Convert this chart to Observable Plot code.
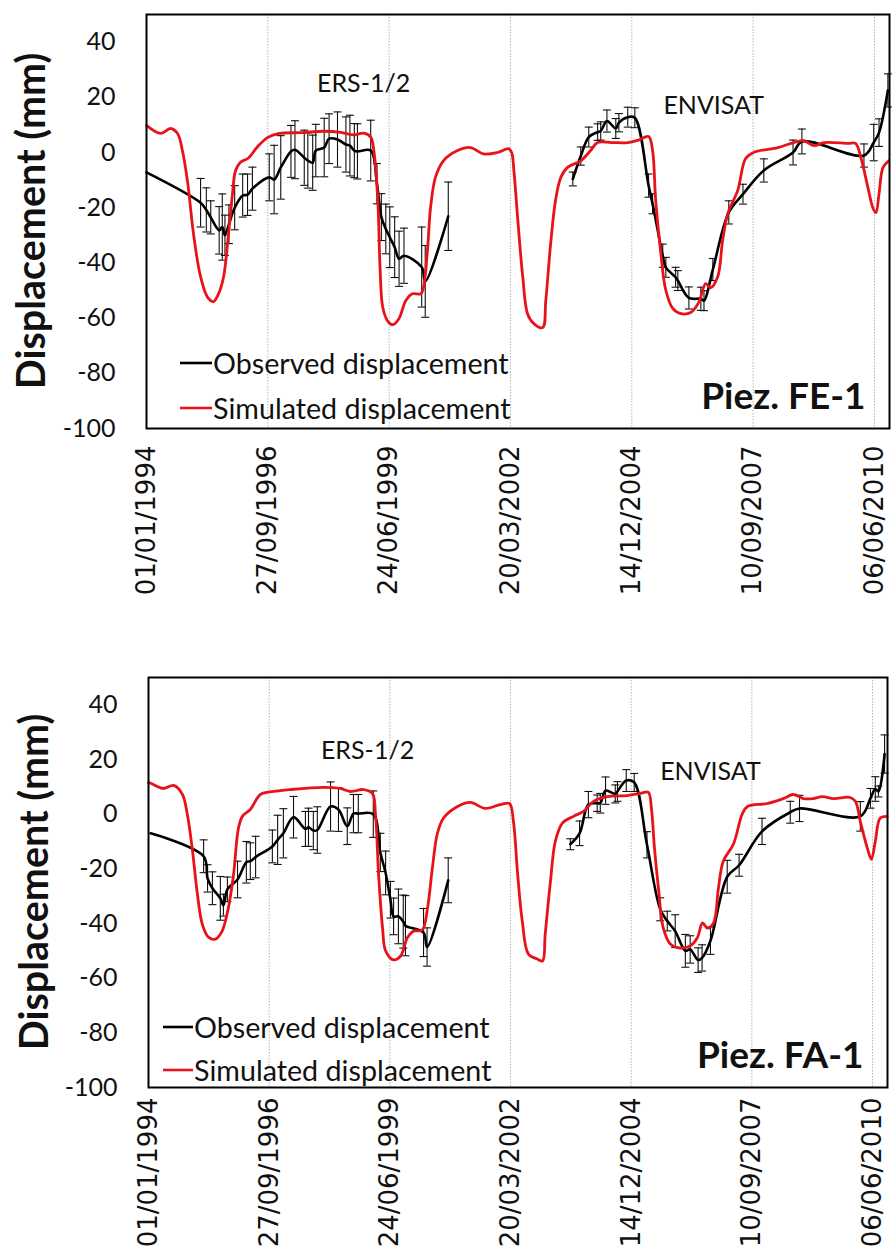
<!DOCTYPE html>
<html>
<head>
<meta charset="utf-8">
<script src="https://cdn.jsdelivr.net/npm/d3@7"></script>
<script src="https://cdn.jsdelivr.net/npm/@observablehq/plot@0.6"></script>
<style>
  html, body { margin: 0; padding: 0; background: #fff; }
  #charts { width: 892px; }
  #charts svg { display: block; }
</style>
</head>
<body>
<div id="charts"></div>
<script>
// ---- Axis ticks ----
const tickDates = ["1994-01-01", "1996-09-27", "1999-06-24", "2002-03-20", "2004-12-14", "2007-09-10", "2010-06-06"];
const yTicks = [-100, -80, -60, -40, -20, 0, 20, 40];
const xStart = "1994-01-01";
const xEnd = "2010-10-08";

// ---- Piezometer FE-1 (times in decimal years, displacement in mm) ----
const simFE1 = [
  [1994.0, 9.8], [1994.32, 6.9], [1994.54, 8.7], [1994.70, 6.9], [1994.81, 0.7], [1994.93, -11],
  [1995.06, -29.4], [1995.22, -45], [1995.38, -52.5], [1995.51, -54], [1995.63, -51], [1995.74, -45],
  [1995.85, -29.5], [1995.94, -15], [1996.01, -6.5], [1996.12, -3.5], [1996.3, -2], [1996.5, 2],
  [1996.73, 5.4], [1997.0, 6.9], [1997.5, 7.2], [1998.0, 7.7], [1998.38, 7.3], [1998.68, 6.4],
  [1998.9, 7], [1999.06, 5.6], [1999.13, 0.7], [1999.22, -17.4], [1999.27, -41.6], [1999.33, -56],
  [1999.44, -61], [1999.55, -62.4], [1999.69, -60.4], [1999.85, -53.7], [2000.0, -51.2], [2000.19, -51.2],
  [2000.25, -49], [2000.34, -35.5], [2000.41, -20], [2000.52, -9], [2000.7, -3], [2001.02, 0.7],
  [2001.31, 1.8], [2001.6, -0.5], [2001.92, 0], [2002.17, 1.4], [2002.24, 0], [2002.29, -6.5],
  [2002.38, -24.7], [2002.49, -45], [2002.6, -58.5], [2002.74, -62], [2002.94, -63.4], [2003.01, -53.7],
  [2003.12, -33], [2003.23, -17.4], [2003.35, -9], [2003.5, -5.4], [2003.8, -3], [2004.02, 0.7],
  [2004.18, 3.6], [2004.5, 3.6], [2004.86, 3.6], [2005.1, 4.5], [2005.33, 5.8], [2005.42, 0.7],
  [2005.49, -17.4], [2005.6, -35.5], [2005.72, -50], [2005.88, -56.6], [2006.06, -58.4], [2006.28, -58],
  [2006.46, -54.4], [2006.62, -47.5], [2006.73, -49], [2006.89, -45], [2007.0, -32], [2007.12, -22],
  [2007.34, -13.8], [2007.52, -2.2], [2007.7, 0], [2008.25, 1.8], [2008.61, 3.6], [2008.83, 4.3],
  [2009.06, 2.5], [2009.29, 3.6], [2009.83, 3.3], [2010.0, 3.3], [2010.12, -1.8], [2010.28, -12.7],
  [2010.39, -20], [2010.46, -21.8], [2010.53, -15], [2010.62, -5.4], [2010.75, -3]
];
// observed: [time, displacement, error]
const obsFE1_ERS = [
  [1994.0, -7.2, null], [1995.22, -18.2, 8.8], [1995.35, -20.8, 8], [1995.45, -23.5, 6],
  [1995.64, -28.2, 8.6], [1995.71, -27, 12], [1995.77, -30, 7.3], [1995.86, -26, 7],
  [1995.99, -20, 8], [1996.17, -15.6, 7.8], [1996.28, -15.3, 7.5], [1996.39, -13.1, 7.8],
  [1996.77, -9, 8.5], [1996.88, -9.8, 12.4], [1997.03, -5.4, 11.5], [1997.26, 0.4, 9.4],
  [1997.35, 1, 10.5], [1997.56, -1.9, 10], [1997.64, -2.9, 10], [1997.75, -3.7, 10],
  [1997.82, 0.7, 9.5], [1998.01, 1.8, 10.6], [1998.12, 5, 9], [1998.31, 4.7, 10],
  [1998.5, 2.9, 10], [1998.59, 2.5, 11], [1998.69, 0.7, 9.8], [1998.76, 0.4, 10],
  [1999.06, 0.7, 11], [1999.2, -11.3, 7.3], [1999.3, -23.4, 8.5], [1999.4, -27.7, 9],
  [1999.49, -30.7, 11], [1999.6, -34.3, 11], [1999.7, -38.5, 10], [1999.81, -37.4, 10],
  [2000.21, -41.5, 14.5], [2000.29, -46.7, 13], [2000.81, -23.1, 12.4]
];
const obsFE1_ENV = [
  [2003.62, -9.6, 2.5], [2003.8, -1.3, 3.3], [2003.98, 5.6, 3.6], [2004.18, 7.4, 3],
  [2004.25, 7.8, 3.3], [2004.39, 11.4, 4], [2004.59, 8.7, 3.6], [2004.66, 10.8, 3.3],
  [2004.86, 12.8, 3.6], [2005.02, 12.6, 3.6], [2005.33, -12, 4.2], [2005.42, -18.6, 3.6],
  [2005.65, -37.4, 4.2], [2005.72, -41.6, 3.6], [2005.94, -45.2, 3.6], [2005.99, -46.4, 3.6],
  [2006.24, -52.7, 4], [2006.51, -53, 4.2], [2006.58, -53.7, 3.6], [2006.78, -42.4, 4],
  [2007.14, -21.7, 4.2], [2007.46, -15.1, 3.6], [2007.93, -6.5, 4.2], [2008.59, 0, 4.5],
  [2008.79, 4, 4.5], [2010.19, -1.1, 4.2], [2010.41, 3.6, 6.6], [2010.53, 7.2, 5],
  [2010.73, 22.5, 6]
];

// ---- Piezometer FA-1 ----
const simFA1 = [
  [1994.0, 11.5], [1994.05, 11.3], [1994.34, 9.4], [1994.57, 10.5], [1994.77, 7.2], [1994.88, 0],
  [1994.99, -12.3], [1995.11, -29.3], [1995.22, -40.2], [1995.36, -45], [1995.52, -45.7], [1995.67, -42.8],
  [1995.81, -34.4], [1995.93, -22], [1996.04, -5.2], [1996.13, -0.8], [1996.31, 1.7], [1996.54, 7.2],
  [1996.84, 8.3], [1997.22, 9], [1997.97, 9.8], [1998.35, 9.4], [1998.58, 8.3], [1998.88, 9],
  [1999.08, 7.6], [1999.15, 0], [1999.22, -22], [1999.31, -41.6], [1999.38, -50], [1999.56, -53.3],
  [1999.72, -51.9], [1999.87, -45.3], [2000.01, -42.8], [2000.21, -42.4], [2000.33, -34.4], [2000.44, -19.8],
  [2000.55, -7.4], [2000.69, -1.5], [2001.01, 2.8], [2001.3, 4.3], [2001.64, 2.1], [2001.98, 3.5],
  [2002.19, 3.9], [2002.28, -2.7], [2002.37, -20.9], [2002.48, -39.1], [2002.62, -51.2], [2002.82, -53],
  [2002.94, -53.7], [2003.0, -44], [2003.12, -24.5], [2003.23, -10], [2003.39, -3.3], [2003.64, -0.8],
  [2003.87, 1], [2004.09, 4.6], [2004.41, 6.4], [2004.86, 6.8], [2005.16, 7.6], [2005.34, 8],
  [2005.41, 2.1], [2005.48, -12.5], [2005.57, -27.1], [2005.68, -41.7], [2005.84, -47.5], [2006.07, -49],
  [2006.29, -48.2], [2006.45, -45.3], [2006.57, -39.8], [2006.68, -41.7], [2006.82, -39.8], [2006.93, -27.1],
  [2007.04, -17.2], [2007.27, -11], [2007.47, 0], [2007.59, 2.8], [2008.04, 3.9], [2008.4, 5.7],
  [2008.63, 7.2], [2008.86, 5.7], [2009.08, 5.7], [2009.29, 6.4], [2009.54, 5.7], [2009.92, 6.1],
  [2010.04, 4.6], [2010.15, -2.7], [2010.31, -12.5], [2010.4, -16.5], [2010.49, -10], [2010.6, -1.5],
  [2010.76, -0.8]
];
const obsFA1_ERS = [
  [1994.05, -7, null], [1995.25, -15.4, 6], [1995.34, -23.5, 5], [1995.45, -27.1, 6],
  [1995.63, -30.8, 8], [1995.7, -33.3, 4], [1995.79, -27.5, 4.5], [1996.02, -23.9, 6.7],
  [1996.22, -17.6, 7.6], [1996.31, -17.2, 6.7], [1996.43, -15.7, 7.6], [1996.81, -11.8, 6],
  [1996.93, -9.4, 9], [1997.06, -7, 9], [1997.29, -1.1, 7.6], [1997.56, -5.4, 6.4],
  [1997.63, -4.8, 7], [1997.74, -6, 7], [1997.83, -5.8, 8.5], [1998.13, 2.8, 9],
  [1998.31, 1.7, 8], [1998.51, -4.4, 6.7], [1998.65, 0.2, 7], [1998.76, 0.2, 7],
  [1999.1, 0, 8.5], [1999.26, -14, 7], [1999.38, -21.5, 8], [1999.49, -31.3, 6.7],
  [1999.56, -37.4, 6.7], [1999.67, -37.4, 10], [1999.78, -39.3, 9.7], [1999.83, -40.8, 11],
  [2000.24, -43.3, 8.8], [2000.32, -48.6, 7], [2000.8, -24.2, 8.2]
];
const obsFA1_ENV = [
  [2003.57, -11, 2], [2003.78, -7, 4.5], [2003.98, 3.5, 4.8], [2004.18, 4, 3],
  [2004.25, 4, 3.6], [2004.37, 8.6, 5], [2004.59, 7.4, 3.3], [2004.64, 8.3, 3.6],
  [2004.84, 12.3, 4], [2005.02, 11.6, 3.3], [2005.31, -11.2, 4.8], [2005.61, -34.8, 4.2],
  [2005.77, -39.1, 3.6], [2005.95, -42.8, 6], [2006.18, -50, 6], [2006.29, -49.5, 5],
  [2006.47, -53.4, 4.5], [2006.56, -52.6, 4.8], [2006.75, -46.3, 5], [2007.13, -22.9, 6],
  [2007.4, -18.7, 4], [2007.92, -6.3, 4.8], [2008.56, 0.7, 4], [2008.77, 2.1, 4.8],
  [2010.15, -0.8, 5.4], [2010.38, 5.8, 3.6], [2010.49, 9.2, 4.5], [2010.56, 8.3, 2],
  [2010.7, 22, 7]
];

const legendLabels = ["Observed displacement", "Simulated displacement"];
const campaigns = ["ERS-1/2", "ENVISAT"];

// ---- helpers ----
const DAY = 864e5;
const t0 = Date.UTC(1994, 0, 1);
const toDate = (yr) => new Date(t0 + (yr - 1994) * 365.25 * DAY);
const parse = d3.utcParse("%Y-%m-%d");
const simRows = (arr) => arr.map(([t, v]) => ({date: toDate(t), v}));
const obsRows = (arr, campaign) => arr.map(([t, v, e]) => ({date: toDate(t), v, err: e, campaign}));

// horizontal cap for the error bars
const capSymbol = {
  draw(ctx, size) {
    const w = Math.sqrt(size / Math.PI);
    ctx.moveTo(-w, 0);
    ctx.lineTo(w, 0);
  }
};

const RED = "#e8131a";
const INK = "#111";

function panel(cfg) {
  const sim = simRows(cfg.sim);
  const obs = [...obsRows(cfg.ers, campaigns[0]), ...obsRows(cfg.env, campaigns[1])];
  const bars = obs.filter((d) => d.err != null);
  const caps = bars.flatMap((d) => [{date: d.date, v: d.v + d.err}, {date: d.date, v: d.v - d.err}]);
  const ticks = tickDates.map(parse);

  const svg = Plot.plot({
    width: 892,
    height: 630,
    marginTop: cfg.marginTop,
    marginBottom: cfg.marginBottom,
    marginLeft: cfg.marginLeft,
    marginRight: cfg.marginRight,
    style: {background: "white", color: "black", fontFamily: "Lato, sans-serif", overflow: "visible"},
    x: {type: "utc", domain: [parse(xStart), parse(xEnd)]},
    y: {domain: [-100, 50]},
    marks: [
      Plot.gridX(ticks, {stroke: "#b5b5b5", strokeOpacity: 1, strokeWidth: 1, strokeDasharray: "1.5,1.5"}),
      Plot.axisX(ticks, {
        tickSize: 0, tickPadding: cfg.xPad, tickRotate: -90, label: null,
        tickFormat: d3.utcFormat("%d/%m/%Y"), fontSize: 26, fontFamily: "DejaVu Sans", fill: INK
      }),
      Plot.axisY(yTicks, {
        tickSize: 0, tickPadding: 31, label: null, fontSize: 25, fontFamily: "Lato", fill: INK,
        tickFormat: (d) => String(d)
      }),
      Plot.ruleX(bars, {x: "date", y1: (d) => d.v - d.err, y2: (d) => d.v + d.err, stroke: INK, strokeWidth: 1.1}),
      Plot.dot(caps, {x: "date", y: "v", symbol: capSymbol, r: 4, stroke: INK, strokeWidth: 1.1, fill: "none"}),
      Plot.line(obs, {x: "date", y: "v", z: "campaign", stroke: "black", strokeWidth: 2.6, curve: "catmull-rom"}),
      Plot.line(sim, {x: "date", y: "v", stroke: RED, strokeWidth: 2.8, curve: "catmull-rom"}),
      Plot.text([campaigns[0]], {x: toDate(cfg.ersLabel[0]), y: cfg.ersLabel[1], fontSize: 25, fontFamily: "Lato", fill: INK}),
      Plot.text([campaigns[1]], {x: toDate(cfg.envLabel[0]), y: cfg.envLabel[1], fontSize: 25, fontFamily: "Lato", fill: INK}),
      Plot.text([cfg.name], {frameAnchor: "bottom-right", dx: -24, dy: -20, fontSize: 37, fontWeight: "bold", fontFamily: "Lato", fill: INK}),
      Plot.frame({stroke: "black", strokeWidth: 2})
    ]
  });

  const s = d3.select(svg);
  // y-axis title
  s.append("text")
    .attr("transform", `translate(${cfg.titleX},${(cfg.marginTop + 630 - cfg.marginBottom) / 2}) rotate(-90)`)
    .attr("text-anchor", "middle")
    .attr("dominant-baseline", "middle")
    .attr("font-family", "Lato, sans-serif")
    .attr("font-weight", "bold")
    .attr("font-size", 39.5)
    .attr("fill", INK)
    .text("Displacement (mm)");
  // legend
  const colors = ["black", RED];
  legendLabels.forEach((lab, i) => {
    const y = cfg.legend.y[i];
    s.append("line")
      .attr("x1", cfg.legend.x1).attr("x2", cfg.legend.x2)
      .attr("y1", y).attr("y2", y)
      .attr("stroke", colors[i]).attr("stroke-width", 2.6);
    s.append("text")
      .attr("x", cfg.legend.x2 + 1).attr("y", y)
      .attr("text-anchor", "start")
      .attr("dominant-baseline", "central")
      .attr("font-family", "Lato, sans-serif")
      .attr("font-size", 28.7)
      .attr("fill", INK)
      .text(lab);
  });
  return svg;
}

const root = document.getElementById("charts");
root.append(panel({
  sim: simFE1, ers: obsFE1_ERS, env: obsFE1_ENV, name: "Piez. FE-1",
  marginTop: 14, marginBottom: 202, marginLeft: 146, marginRight: 3, xPad: 17,
  ersLabel: [1998.9, 25], envLabel: [2006.8, 17],
  titleX: 35,
  legend: {x1: 180, x2: 212, y: [363, 408]}
}));
root.append(panel({
  sim: simFA1, ers: obsFA1_ERS, env: obsFA1_ENV, name: "Piez. FA-1",
  marginTop: 47, marginBottom: 173, marginLeft: 148, marginRight: 5, xPad: 10,
  ersLabel: [1998.97, 23], envLabel: [2006.75, 15.6],
  titleX: 38,
  legend: {x1: 163, x2: 193, y: [397, 440]}
}));
</script>
</body>
</html>
